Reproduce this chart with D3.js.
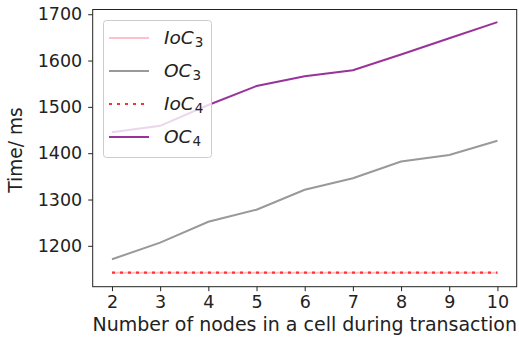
<!DOCTYPE html>
<html>
<head>
<meta charset="utf-8">
<script src="https://cdn.jsdelivr.net/npm/d3@7"></script>
<style>
  body { margin: 0; background: #fff; }
  svg { display: block; font-family: "DejaVu Sans", sans-serif; }
</style>
</head>
<body>
<div id="container"></div>
<script>
let w = 519;
let h = 343;

// data
let nodes = [2, 3, 4, 5, 6, 7, 8, 9, 10];
let ioc3 = [1142, 1142, 1142, 1142, 1142, 1142, 1142, 1142, 1142];
let oc3 = [1171, 1207, 1252, 1278, 1321, 1346, 1382, 1396, 1427];
let ioc4 = [1142, 1142, 1142, 1142, 1142, 1142, 1142, 1142, 1142];
let oc4 = [1445, 1459, 1504, 1545, 1566, 1579, 1613, 1648, 1683];
let yTicks = [1200, 1300, 1400, 1500, 1600, 1700];
let seriesNames = ["IoC", "OC", "IoC", "OC"];
let seriesSubs = ["3", "3", "4", "4"];

let plotL = 92.7, plotR = 516.7, plotT = 9.5, plotB = 286.7;

let series = [
    {name: seriesNames[0], sub: seriesSubs[0], values: ioc3, color: "#ffc0cb", dash: null, width: 2},
    {name: seriesNames[1], sub: seriesSubs[1], values: oc3, color: "#999999", dash: null, width: 2},
    {name: seriesNames[2], sub: seriesSubs[2], values: ioc4, color: "#ff3333", dash: "3,5", width: 2.2},
    {name: seriesNames[3], sub: seriesSubs[3], values: oc4, color: "#993399", dash: null, width: 2}
];

let x = d3.scaleLinear().domain([1.6, 10.4]).range([plotL, plotR]);
let yMin = 1139, yMax = 1683, pad = (yMax - yMin) * 0.05;
let y = d3.scaleLinear().domain([yMin - pad, yMax + pad]).range([plotB, plotT]);

let svg = d3.select("#container").append("svg")
    .attr("width", w)
    .attr("height", h);

let line = d3.line()
    .x((d, i) => x(nodes[i]))
    .y(d => y(d));

svg.selectAll(".series").data(series).enter()
    .append("path")
    .attr("class", "series")
    .attr("d", d => line(d.values))
    .attr("fill", "none")
    .attr("stroke", d => d.color)
    .attr("stroke-width", d => d.width)
    .attr("stroke-dasharray", d => d.dash);

// axes
let xAxis = svg.append("g")
    .attr("transform", `translate(0,${plotB})`)
    .call(d3.axisBottom(x).tickValues(nodes).tickFormat(d3.format("d"))
        .tickSizeOuter(0).tickSize(4.5).tickPadding(4));
let yAxis = svg.append("g")
    .attr("transform", `translate(${plotL},0)`)
    .call(d3.axisLeft(y).tickValues(yTicks).tickFormat(d3.format("d"))
        .tickSizeOuter(0).tickSize(4.5).tickPadding(6));
[xAxis, yAxis].forEach(a => {
    a.select(".domain").remove();
    a.selectAll("text").attr("font-size", 17.5).attr("fill", "#222").attr("font-family", "DejaVu Sans");
    a.selectAll("line").attr("stroke", "#222").attr("stroke-width", 1);
});

// frame
svg.append("rect")
    .attr("x", plotL).attr("y", plotT)
    .attr("width", plotR - plotL).attr("height", plotB - plotT)
    .attr("fill", "none").attr("stroke", "#222").attr("stroke-width", 1);

// axis labels
svg.append("text")
    .attr("x", (plotL + plotR) / 2).attr("y", 331)
    .attr("text-anchor", "middle")
    .attr("font-size", 19).attr("fill", "#222")
    .text("Number of nodes in a cell during transaction");
svg.append("text")
    .attr("transform", `translate(22,150) rotate(-90)`)
    .attr("text-anchor", "middle")
    .attr("font-size", 18.6).attr("fill", "#222")
    .text("Time/ ms");

// legend
let legend = svg.append("g");
legend.append("rect")
    .attr("x", 103.5).attr("y", 20.5)
    .attr("width", 108).attr("height", 137)
    .attr("rx", 3)
    .attr("fill", "#fff").attr("fill-opacity", 0.8)
    .attr("stroke", "#ccc").attr("stroke-width", 1);

let rows = legend.selectAll(".entry").data(series).enter()
    .append("g")
    .attr("class", "entry")
    .attr("transform", (d, i) => `translate(0,${38 + i * 33})`);
rows.append("line")
    .attr("x1", 109).attr("x2", 149)
    .attr("stroke", d => d.color)
    .attr("stroke-width", d => d.width)
    .attr("stroke-dasharray", d => d.dash);
let lbl = rows.append("text")
    .attr("x", 164).attr("y", 6)
    .attr("font-size", 18.5).attr("fill", "#222");
lbl.append("tspan").attr("font-style", "italic").text(d => d.name);
lbl.append("tspan").attr("font-size", 13.5).attr("dy", 3).attr("dx", 1).text(d => d.sub);
</script>
</body>
</html>
